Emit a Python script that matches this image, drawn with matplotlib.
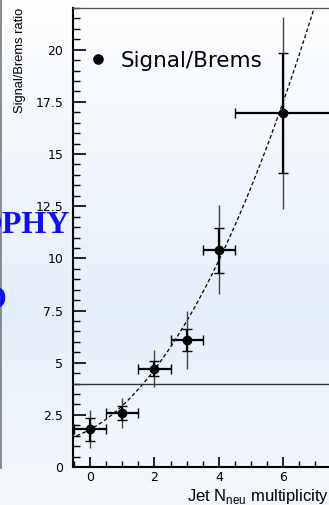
import numpy as np
import matplotlib.pyplot as plt
from matplotlib.colors import LinearSegmentedColormap
from matplotlib.ticker import MultipleLocator

# neutral-jet multiplicity bins and measured signal/brems ratio
nneu = [0, 1, 2, 3, 4, 6]
nneu_err = [0.5, 0.5, 0.5, 0.5, 0.5, 1.5]
ratio = [1.82, 2.60, 4.72, 6.11, 10.38, 16.95]
ratio_lo_stat = [1.26, 2.25, 4.35, 5.56, 9.30, 14.08]
ratio_hi_stat = [2.34, 2.93, 5.07, 6.60, 11.45, 19.82]
ratio_lo_tot = [0.92, 1.85, 3.83, 4.69, 8.28, 12.38]
ratio_hi_tot = [2.73, 3.32, 5.60, 7.46, 12.54, 21.55]

# quadratic fit through the points: a + b*x + c*x^2
fit_coef = [1.80, 0.84, 0.2965]
ref_level = 4.0

fig = plt.figure(figsize=(3.29, 5.05), dpi=100)

# slide background gradient
bg = fig.add_axes([0, 0, 1, 1], zorder=-10)
bg_cmap = LinearSegmentedColormap.from_list(
    'slide', [(0.0, '#fdfeff'), (0.35, '#f1f6fc'), (0.62, '#e4eef9'),
              (0.80, '#edf4fb'), (1.0, '#f5f9fd')])
bg.imshow(np.linspace(0, 1, 256)[:, None], aspect='auto', cmap=bg_cmap,
          extent=[0, 1, 0, 1], origin='upper')
bg.axvline(0.002, ymin=(505 - 468) / 505, ymax=1, color='#777777', lw=1.2)
bg.set_xlim(0, 1)
bg.set_ylim(0, 1)
bg.axis('off')

fig.text(70 / 329, 1 - 233 / 505, 'OPHY', ha='right', va='baseline',
         family='Liberation Serif', weight='bold', size=23, color='#1010ee')
fig.text(6 / 329, 1 - 300 / 505, 'O', ha='right', va='center',
         family='Liberation Serif', weight='bold', size=22, color='#1010ee')

ax = fig.add_axes([73 / 329, 38 / 505, 1 - 73 / 329, 459 / 505])
ax.patch.set_alpha(0)

xs = np.linspace(-0.6, 7.5, 300)
ax.plot(xs, fit_coef[0] + fit_coef[1] * xs + fit_coef[2] * xs ** 2,
        ls=(0, (3, 2)), color='black', lw=0.9)
ax.axhline(ref_level, color='#333333', lw=1.0)

x = np.array(nneu)
y = np.array(ratio)
ax.errorbar(x, y, yerr=[y - np.array(ratio_lo_tot), np.array(ratio_hi_tot) - y],
            fmt='none', ecolor='#444444', elinewidth=1.0, capsize=0)
ax.errorbar(x, y, yerr=[y - np.array(ratio_lo_stat), np.array(ratio_hi_stat) - y],
            xerr=nneu_err, fmt='none', ecolor='black', elinewidth=1.6,
            capsize=3.5, capthick=1.0)
ax.plot(x, y, 'o', color='black', ms=6, label='Signal/Brems')

ax.set_xlim(-0.53, 7.42)
ax.set_ylim(0, 22)
ax.xaxis.set_major_locator(MultipleLocator(2))
ax.xaxis.set_minor_locator(MultipleLocator(0.5))
ax.yaxis.set_major_locator(MultipleLocator(2.5))
ax.yaxis.set_minor_locator(MultipleLocator(0.5))
ax.yaxis.set_major_formatter(lambda v, p: f'{v:g}')
ax.tick_params(axis='y', which='major', direction='in', length=9, width=1.2,
               pad=7, labelsize=9)
ax.tick_params(axis='y', which='minor', direction='in', length=5, width=1.0)
ax.tick_params(axis='x', which='major', direction='in', length=7, width=1.2,
               pad=3, labelsize=9)
ax.tick_params(axis='x', which='minor', direction='in', length=4, width=1.0)
ax.spines['right'].set_visible(False)
ax.spines['left'].set_linewidth(1.5)
ax.spines['bottom'].set_linewidth(1.5)
ax.spines['top'].set_linewidth(0.9)
ax.spines['top'].set_color('#555555')

fig.text(20 / 329, 1 - 8 / 505, 'Signal/Brems ratio', rotation=90,
         ha='center', va='top', family='Liberation Sans', size=9.3)
fig.text(1.0, 1 - 501.5 / 505, r'Jet N$_{\mathregular{neu}}$ multiplicity',
         ha='right', va='baseline', family='Liberation Sans', size=12)

ax.legend(loc='upper left', bbox_to_anchor=(14 / 256, 1 - 43 / 459),
          frameon=False, fontsize=15.5, handletextpad=0.55, handlelength=1.0,
          borderaxespad=0, borderpad=0, markerscale=1.1)

fig.savefig('out.png', dpi=100)
